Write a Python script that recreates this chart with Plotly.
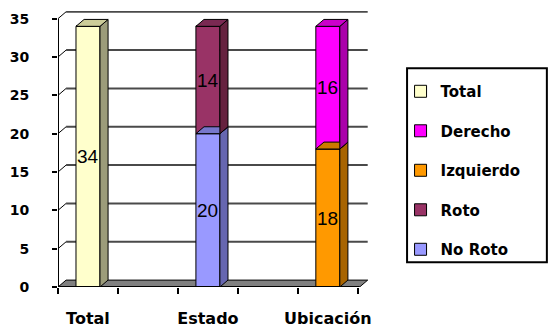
import plotly.graph_objects as go

# ---- data ----
categories = ["Total", "Estado", "Ubicación"]
total_vals = [34, 0, 0]
no_roto_vals = [0, 20, 0]
roto_vals = [0, 14, 0]
izquierdo_vals = [0, 0, 18]
derecho_vals = [0, 0, 16]
y_ticks = [0, 5, 10, 15, 20, 25, 30, 35]

# ---- style ----
series = [
    # name, values, front, side, top, legend rank
    ("Total", total_vals, "#FFFFCC", "#9C9C7A", "#CCCC99", 1),
    ("No Roto", no_roto_vals, "#9999FF", "#6666B0", "#7777CC", 5),
    ("Roto", roto_vals, "#993366", "#66223F", "#7A2952", 4),
    ("Izquierdo", izquierdo_vals, "#FF9900", "#A86400", "#CC7A00", 3),
    ("Derecho", derecho_vals, "#FF00FF", "#AA00AA", "#CC00CC", 2),
]
xpos = [2 * i + 0.5 for i in range(len(categories))]
bw = 0.4
dx, dy = 0.135, 0.9
x_end = 5.03
FONT_B = "DejaVu Sans"

fig = go.Figure()
base = [0.0] * len(categories)
side_traces = []
annotations = []
for name, vals, front, side, top, rank in series:
    fig.add_trace(go.Bar(
        x=xpos, y=vals, base=base[:], width=bw, name=name,
        marker=dict(color=front, line=dict(color="black", width=1)),
        legendrank=rank, legendgroup=name, hoverinfo="skip",
    ))
    for i, v in enumerate(vals):
        if v:
            b, t = base[i], base[i] + v
            c = xpos[i]
            xs = [c + bw / 2, c + bw / 2 + dx, c + bw / 2 + dx, c + bw / 2, c + bw / 2]
            ys = [b, b + dy, t + dy, t, b]
            side_traces.append((xs, ys, side))
            xs2 = [c - bw / 2, c - bw / 2 + dx, c + bw / 2 + dx, c + bw / 2, c - bw / 2]
            ys2 = [t, t + dy, t + dy, t, t]
            side_traces.append((xs2, ys2, top))
            annotations.append(dict(x=c, y=b + v / 2, text=str(v), showarrow=False,
                                    font=dict(family="Liberation Sans", size=19, color="black")))
    base = [base[i] + vals[i] for i in range(len(vals))]

for xs, ys, col in side_traces:
    fig.add_trace(go.Scatter(
        x=xs, y=ys, mode="lines", fill="toself", fillcolor=col,
        line=dict(color="black", width=1), showlegend=False, hoverinfo="skip",
    ))

shapes = []
# floor
shapes.append(dict(type="path", layer="below",
                   path=f"M 0 0 L {dx} {dy} L {x_end + dx} {dy} L {x_end} 0 Z",
                   fillcolor="#808080", line=dict(color="black", width=1)))
# back wall gridlines and connectors
for v in y_ticks[1:]:
    shapes.append(dict(type="line", layer="below", x0=dx, x1=x_end + dx, y0=v + dy, y1=v + dy,
                       line=dict(color="#4a4a4a", width=2)))
    shapes.append(dict(type="line", layer="below", x0=0, x1=dx, y0=v, y1=v + dy,
                       line=dict(color="black", width=1)))
# axis lines
shapes.append(dict(type="line", x0=0, x1=0, y0=0, y1=35, line=dict(color="black", width=2)))
shapes.append(dict(type="line", x0=0, x1=x_end, y0=0, y1=0, line=dict(color="black", width=2)))
# legend box
shapes.append(dict(type="rect", xref="paper", yref="paper",
                   x0=1.126, x1=1.577, y0=0.09, y1=0.793,
                   line=dict(color="black", width=2), fillcolor="rgba(0,0,0,0)"))
fig.update_layout(shapes=shapes, annotations=annotations)

fig.update_layout(
    width=548, height=334,
    margin=dict(l=58, r=180, t=11, b=47, autoexpand=False),
    paper_bgcolor="white", plot_bgcolor="white",
    barmode="overlay",
    showlegend=True,
    legend=dict(x=1.105, y=0.768, xanchor="left", yanchor="top",
                font=dict(family=FONT_B, size=15, color="black", weight="bold"),
                tracegroupgap=17, bgcolor="rgba(0,0,0,0)", borderwidth=0),
    xaxis=dict(range=[0, 5.17], tickvals=xpos, ticktext=categories, automargin=False,
               ticks="", showgrid=False, zeroline=False, showline=False,
               tickfont=dict(family=FONT_B, size=16, color="black", weight="bold"),
               ticklabelstandoff=20,
               minor=dict(tickvals=[0, 1, 2, 3, 4, 5], ticks="outside", ticklen=6,
                          tickcolor="black", tickwidth=2, showgrid=False)),
    yaxis=dict(range=[0, 36], tickvals=y_ticks, ticks="outside", ticklen=5, automargin=False,
               tickcolor="black", tickwidth=2, showgrid=False, zeroline=False,
               showline=False,
               tickfont=dict(family=FONT_B, size=14, color="black", weight="bold"),
               ticklabelstandoff=20),
)

fig.write_html("out.html")
